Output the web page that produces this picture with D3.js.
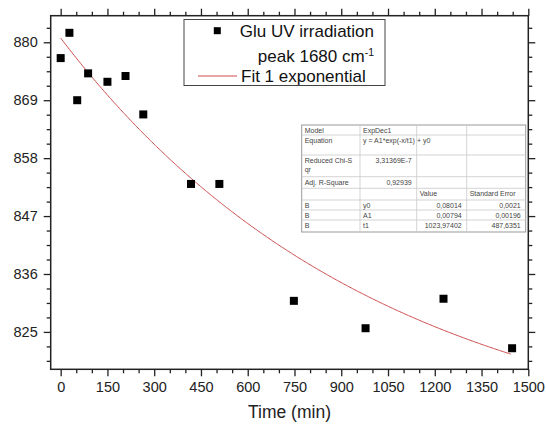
<!DOCTYPE html>
<html>
<head>
<meta charset="utf-8">
<script src="https://cdn.jsdelivr.net/npm/d3@7"></script>
<style>
  body { margin: 0; background: #fff; }
  svg { display: block; font-family: "Liberation Sans", Arial, sans-serif; }
</style>
</head>
<body>
<div id="chart-area"></div>
<script>
// data
const times = [0, 28, 53, 88, 150, 208, 265, 418, 509, 748, 978, 1228, 1448];
const peaks = [877.0, 881.8, 869.0, 874.1, 872.5, 873.6, 866.3, 853.1, 853.1, 830.9, 825.7, 831.3, 821.9];
const xTicks = [0, 150, 300, 450, 600, 750, 900, 1050, 1200, 1350, 1500];
const yTicks = [825, 836, 847, 858, 869, 880];

// ExpDec1 fit (table values, plotted x 10^4)
const fitY0 = 0.08014, fitA1 = 0.00794, fitT1 = 1023.97402, fitScale = 1e4;
const fitRange = [0, 1446];

const tableRows = [
  ["Model", "ExpDec1", "", ""],
  ["Equation", "y = A1*exp(-x/t1) + y0", "", ""],
  ["Reduced Chi-S|qr", "3,31369E-7", "", ""],
  ["Adj. R-Square", "0,92939", "", ""],
  ["", "", "Value", "Standard Error"],
  ["B", "y0", "0,08014", "0,0021"],
  ["B", "A1", "0,00794", "0,00196"],
  ["B", "t1", "1023,97402", "487,6351"]
];

const W = 546, H = 426;
const pL = 50.7, pR = 528.3, pT = 15.7, pB = 369.3;

const svg = d3.select("#chart-area").append("svg")
    .attr("width", W)
    .attr("height", H);
svg.append("rect").attr("width", W).attr("height", H).attr("fill", "#fff");

const x = d3.scaleLinear().domain([-32, 1500]).range([pL, pR]);
const y = d3.scaleLinear().domain([817.9, 885.05]).range([pB, pT]);

const xMinor = d3.range(0, 1501, 50).filter((d) => d % 150 !== 0);
const yMinor = d3.range(819.5, 885, 2.75).filter((d) => !yTicks.some((t) => Math.abs(t - d) < 0.01));

function styleAxis(sel) {
  sel.select(".domain").remove();
  sel.selectAll("line").attr("stroke", "#222").attr("stroke-width", 1.3);
  sel.selectAll("text").attr("fill", "#222").attr("font-size", "14.5px")
    .attr("font-family", "'Liberation Sans', Arial, sans-serif");
}

// bottom
svg.append("g").attr("transform", "translate(0," + pB + ")")
    .call(d3.axisBottom(x).tickValues(xTicks).tickSize(7).tickPadding(5).tickFormat(d3.format("d")))
    .call(styleAxis);
svg.append("g").attr("transform", "translate(0," + pB + ")")
    .call(d3.axisBottom(x).tickValues(xMinor).tickSize(4).tickFormat(""))
    .call(styleAxis);
// top
svg.append("g").attr("transform", "translate(0," + pT + ")")
    .call(d3.axisTop(x).tickValues(xTicks).tickSize(7).tickFormat(""))
    .call(styleAxis);
svg.append("g").attr("transform", "translate(0," + pT + ")")
    .call(d3.axisTop(x).tickValues(xMinor).tickSize(4).tickFormat(""))
    .call(styleAxis);
// left
svg.append("g").attr("transform", "translate(" + pL + ",0)")
    .call(d3.axisLeft(y).tickValues(yTicks).tickSize(7).tickPadding(6).tickFormat(d3.format("d")))
    .call(styleAxis);
svg.append("g").attr("transform", "translate(" + pL + ",0)")
    .call(d3.axisLeft(y).tickValues(yMinor).tickSize(4).tickFormat(""))
    .call(styleAxis);
// right
svg.append("g").attr("transform", "translate(" + pR + ",0)")
    .call(d3.axisRight(y).tickValues(yTicks).tickSize(7).tickFormat(""))
    .call(styleAxis);
svg.append("g").attr("transform", "translate(" + pR + ",0)")
    .call(d3.axisRight(y).tickValues(yMinor).tickSize(4).tickFormat(""))
    .call(styleAxis);

// frame
svg.append("rect")
    .attr("x", pL).attr("y", pT)
    .attr("width", pR - pL).attr("height", pB - pT)
    .attr("fill", "none").attr("stroke", "#222").attr("stroke-width", 1.5);

// axis title
svg.append("text")
    .attr("x", (pL + pR) / 2).attr("y", 418)
    .attr("text-anchor", "middle")
    .attr("font-size", "17.5px").attr("fill", "#222")
    .text("Time (min)");

// fit curve
const fitTimes = d3.range(fitRange[0], fitRange[1] + 1, 4);
const fitLine = d3.line()
    .x((d) => x(d))
    .y((d) => y(fitScale * (fitY0 + fitA1 * Math.exp(-d / fitT1))));
svg.append("path")
    .datum(fitTimes)
    .attr("d", fitLine)
    .attr("fill", "none")
    .attr("stroke", "#cc4a4a")
    .attr("stroke-width", 1);

// points
const ms = 8;
svg.selectAll("rect.pt").data(times).enter().append("rect")
    .attr("class", "pt")
    .attr("x", (d) => x(d) - ms / 2)
    .attr("y", (d, i) => y(peaks[i]) - ms / 2)
    .attr("width", ms).attr("height", ms)
    .attr("fill", "#000");

// legend
const lg = svg.append("g");
lg.append("rect")
    .attr("x", 184).attr("y", 19.5).attr("width", 201).attr("height", 66)
    .attr("fill", "#fff").attr("stroke", "#444").attr("stroke-width", 1);
lg.append("rect").attr("x", 213.8).attr("y", 27.2).attr("width", 7).attr("height", 7).attr("fill", "#000");
lg.append("text").attr("x", 374).attr("y", 37).attr("text-anchor", "end")
    .attr("font-size", "17px").attr("fill", "#111").text("Glu UV irradiation");
const pk = lg.append("text").attr("x", 374).attr("y", 62).attr("text-anchor", "end")
    .attr("font-size", "17px").attr("fill", "#111");
pk.append("tspan").text("peak 1680 cm");
pk.append("tspan").attr("dy", -6).attr("font-size", "10.5px").text("-1");
lg.append("line").attr("x1", 198).attr("x2", 237).attr("y1", 76).attr("y2", 76)
    .attr("stroke", "#cc4a4a").attr("stroke-width", 1);
lg.append("text").attr("x", 241).attr("y", 82)
    .attr("font-size", "17px").attr("fill", "#111").text("Fit 1 exponential");

// fit table
const colX = [301.7, 360, 416.7, 466.7, 525.7];
const rowY = [125, 135, 155, 176.7, 188.3, 200, 210, 220, 232];
const tg = svg.append("g").attr("font-size", "7px").attr("fill", "#444");
tg.append("rect")
    .attr("x", colX[0]).attr("y", rowY[0])
    .attr("width", colX[4] - colX[0]).attr("height", rowY[8] - rowY[0])
    .attr("fill", "#fff").attr("stroke", "#999").attr("stroke-width", 1);
rowY.slice(1, -1).forEach((ry) => {
  tg.append("line").attr("x1", colX[0]).attr("x2", colX[4]).attr("y1", ry).attr("y2", ry)
      .attr("stroke", "#c8c8c8").attr("stroke-width", 0.8);
});
colX.slice(1, -1).forEach((cx) => {
  tg.append("line").attr("x1", cx).attr("x2", cx).attr("y1", rowY[0]).attr("y2", rowY[8])
      .attr("stroke", "#c8c8c8").attr("stroke-width", 0.8);
});
tableRows.forEach((row, r) => {
  row.forEach((cell, c) => {
    if (!cell) return;
    const numeric = /^[0-9]/.test(cell) && c > 0;
    const lines = cell.split("|");
    lines.forEach((ln, k) => {
      const tx = numeric ? colX[c + 1] - 5 : colX[c] + 3;
      tg.append("text")
          .attr("x", tx)
          .attr("y", rowY[r] + 8 + k * 9)
          .attr("text-anchor", numeric ? "end" : "start")
          .attr("font-family", "'Liberation Sans', Arial, sans-serif")
          .text(ln);
    });
  });
});
</script>
</body>
</html>
